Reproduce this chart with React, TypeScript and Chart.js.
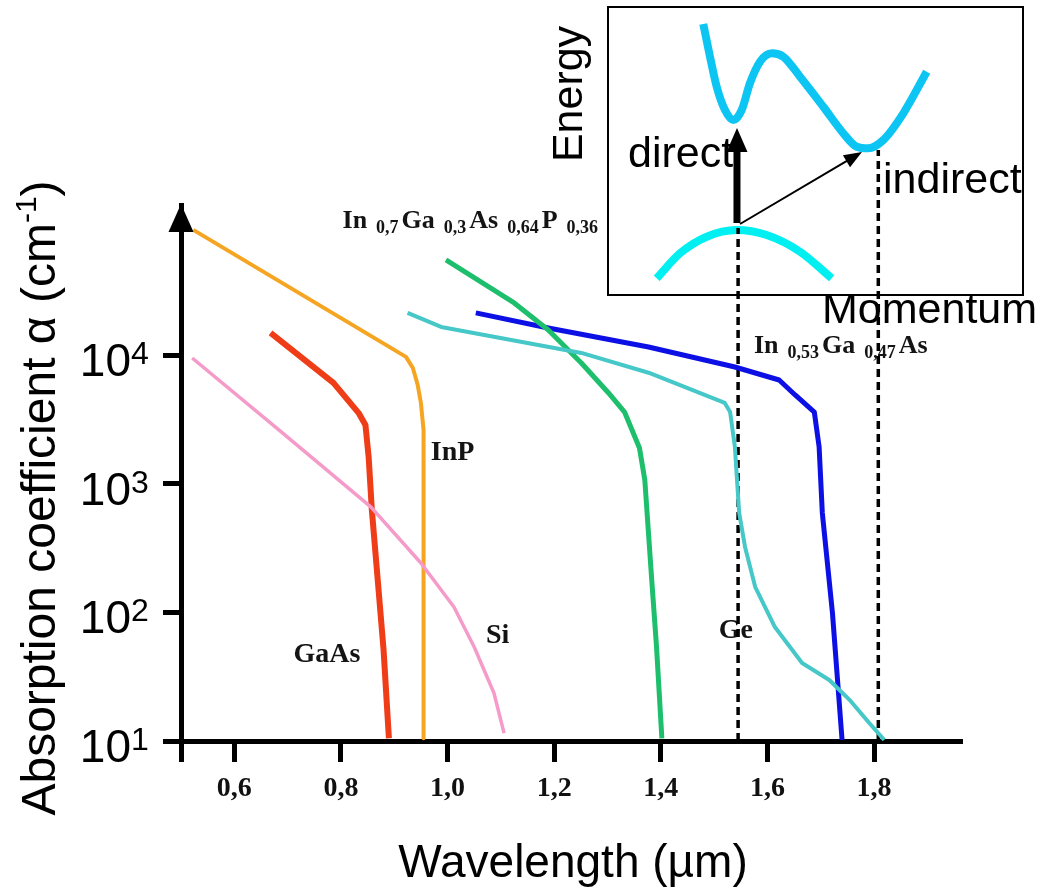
import React, { useEffect, useRef } from 'react';
import { Chart, registerables } from 'chart.js';

Chart.register(...registerables);

type P = [number, number];

// ---------- main chart data: wavelength (µm) vs absorption coefficient (cm^-1)
const seriesGaAs: P[] = [[0.668, 14900], [0.786, 6080], [0.833, 3560], [0.846, 2860], [0.852, 1615], [0.858, 625], [0.869, 179], [0.880, 51], [0.890, 10.5]];
const seriesInP: P[] = [[0.523, 94200], [0.922, 9690], [0.935, 7940], [0.944, 5860], [0.950, 4250], [0.955, 2620], [0.955, 10.5]];
const seriesSi: P[] = [[0.521, 9500], [0.688, 2530], [0.856, 661], [0.950, 242], [1.012, 110], [1.050, 53.8], [1.087, 23.6], [1.106, 11.5]];
const seriesInGaAsP: P[] = [[0.997, 54950], [1.125, 25470], [1.189, 15700], [1.251, 8690], [1.302, 5080], [1.332, 3610], [1.360, 1897], [1.370, 1072], [1.383, 179], [1.392, 53.8], [1.402, 10.5]];
const seriesGe: P[] = [[0.925, 21300], [0.988, 16560], [1.251, 10400], [1.377, 7300], [1.520, 4250], [1.530, 3610], [1.539, 1930], [1.547, 593], [1.558, 323], [1.577, 158], [1.614, 76.9], [1.665, 40.4], [1.716, 29.8], [1.754, 20.9], [1.791, 13.8], [1.819, 10.2]];
const seriesInGaAs: P[] = [[1.053, 21300], [1.189, 16260], [1.377, 11580], [1.539, 8090], [1.622, 6410], [1.652, 4900], [1.688, 3610], [1.697, 1930], [1.703, 593], [1.722, 98.9], [1.740, 10.2]];

const directGapLine: P[] = [[1.545, 10], [1.545, 97500]];
const indirectGapLine: P[] = [[1.808, 10], [1.808, 394000]];

const xTickValues = [0.6, 0.8, 1.0, 1.2, 1.4, 1.6, 1.8];
const xTickLabels = ['0,6', '0,8', '1,0', '1,2', '1,4', '1,6', '1,8'];
const yTickValues = [10, 100, 1000, 10000];
const yTickExponents = ['1', '2', '3', '4'];

const curveLabels = [
  { text: 'GaAs', x: 0.7108, y: 41.1 },
  { text: 'InP', x: 0.9687, y: 1530 },
  { text: 'Si', x: 1.0722, y: 57.8 },
  { text: 'Ge', x: 1.5088, y: 63.2 },
];
const compoundLabels: { parts: [string, boolean][]; x: number; y: number }[] = [
  { parts: [['In', false], ['0,7', true], ['Ga', false], ['0,3', true], ['As', false], ['0,64', true], ['P', false], ['0,36', true]], x: 0.803, y: 97500 },
  { parts: [['In', false], ['0,53', true], ['Ga', false], ['0,47', true], ['As', false]], x: 1.5747, y: 10400 },
];

// ---------- inset (band diagram) data, arbitrary momentum / energy units 0..100
const conductionBand: P[] = [[22.96, 94.1], [24.58, 82.74], [26.19, 72.33], [28.19, 64.24], [30.19, 60.76], [32.22, 64.24], [34.22, 73.61], [36.63, 81.01], [39.45, 83.92], [42.24, 82.74], [46.27, 75.8], [51.88, 65.38], [56.7, 56.15], [59.93, 51.49], [62.72, 50.94], [66.34, 53.82], [71.16, 63.09], [76.8, 77.53]];
const valenceBand: P[] = [[11.73, 5.8], [17.35, 14.48], [23.78, 20.24], [31.01, 22.57], [38.24, 20.83], [46.27, 15.03], [53.9, 5.8]];
const directArrow: P[] = [[31.08, 25.0], [31.08, 57.99]];
const indirectArrow: P[] = [[31.81, 24.65], [61.2, 49.65]];

const SANS = '"Liberation Sans", Arial, sans-serif';
const SERIF = '"Liberation Serif", "Times New Roman", serif';

const toXY = (a: P[]) => a.map(([x, y]) => ({ x, y }));

function drawArrow(ctx: CanvasRenderingContext2D, x0: number, y0: number, x1: number, y1: number, w: number, headLen: number, headHalf: number) {
  const ang = Math.atan2(y1 - y0, x1 - x0);
  const c = Math.cos(ang), s = Math.sin(ang);
  const bx = x1 - headLen * c, by = y1 - headLen * s;
  ctx.save();
  ctx.strokeStyle = '#000';
  ctx.fillStyle = '#000';
  ctx.lineWidth = w;
  ctx.lineCap = 'butt';
  ctx.beginPath();
  ctx.moveTo(x0, y0);
  ctx.lineTo(bx + c, by + s);
  ctx.stroke();
  ctx.beginPath();
  ctx.moveTo(x1, y1);
  ctx.lineTo(bx + headHalf * s, by - headHalf * c);
  ctx.lineTo(bx - headHalf * s, by + headHalf * c);
  ctx.closePath();
  ctx.fill();
  ctx.restore();
}

const mainDecor = {
  id: 'mainDecor',
  beforeDatasetsDraw(chart: any) {
    const ctx: CanvasRenderingContext2D = chart.ctx;
    const xs = chart.scales.x, ys = chart.scales.y;
    ctx.save();
    ctx.fillStyle = '#141414';
    ctx.textAlign = 'left';
    ctx.textBaseline = 'alphabetic';
    ctx.font = `bold 28px ${SERIF}`;
    curveLabels.forEach((l) => {
      ctx.fillText(l.text, xs.getPixelForValue(l.x), ys.getPixelForValue(l.y));
    });
    compoundLabels.forEach((l) => {
      let cx = xs.getPixelForValue(l.x);
      const by = ys.getPixelForValue(l.y);
      l.parts.forEach(([t, sub]) => {
        if (sub) {
          cx += 9;
          ctx.font = `bold 18px ${SERIF}`;
          ctx.fillText(t, cx, by + 5);
          cx += ctx.measureText(t).width + 3;
        } else {
          ctx.font = `bold 26px ${SERIF}`;
          ctx.fillText(t, cx, by);
          cx += ctx.measureText(t).width;
        }
      });
    });
    ctx.restore();
  },
  afterDraw(chart: any) {
    const ctx: CanvasRenderingContext2D = chart.ctx;
    const ys = chart.scales.y;
    const area = chart.chartArea;
    ctx.save();
    // arrow head on y axis
    ctx.fillStyle = '#000';
    ctx.beginPath();
    ctx.moveTo(area.left, area.top - 1);
    ctx.lineTo(area.left - 12.5, area.top + 27);
    ctx.lineTo(area.left + 12.5, area.top + 27);
    ctx.closePath();
    ctx.fill();
    // y tick labels 10^n
    ctx.fillStyle = '#000';
    ctx.textBaseline = 'alphabetic';
    yTickValues.forEach((v, i) => {
      const py = ys.getPixelForValue(v);
      ctx.font = `46px ${SANS}`;
      ctx.textAlign = 'right';
      ctx.fillText('10', 131, py + 21);
      ctx.font = `32px ${SANS}`;
      ctx.textAlign = 'left';
      ctx.fillText(yTickExponents[i], 131, py + 9);
    });
    // x title
    ctx.font = `46px ${SANS}`;
    ctx.textAlign = 'center';
    ctx.fillText('Wavelength (µm)', 573, 877);
    // y title (rotated, with superscript)
    const main1 = 'Absorption coefficient α (cm';
    const sup = '-1';
    const main2 = ')';
    ctx.translate(55, 498);
    ctx.rotate(-Math.PI / 2);
    ctx.textAlign = 'left';
    ctx.font = `48px ${SANS}`;
    const w1 = ctx.measureText(main1).width;
    const w3 = ctx.measureText(main2).width;
    ctx.font = `30px ${SANS}`;
    const w2 = ctx.measureText(sup).width;
    let cx = -(w1 + w2 + w3) / 2;
    ctx.font = `48px ${SANS}`;
    ctx.fillText(main1, cx, 0);
    cx += w1;
    ctx.font = `30px ${SANS}`;
    ctx.fillText(sup, cx, -19);
    cx += w2;
    ctx.font = `48px ${SANS}`;
    ctx.fillText(main2, cx, 0);
    ctx.restore();
  },
};

const insetDecor = {
  id: 'insetDecor',
  beforeDraw(chart: any) {
    const ctx: CanvasRenderingContext2D = chart.ctx;
    const a = chart.chartArea;
    ctx.save();
    ctx.fillStyle = '#fff';
    ctx.fillRect(a.left, a.top, a.right - a.left, a.bottom - a.top);
    ctx.strokeStyle = '#000';
    ctx.lineWidth = 2;
    ctx.strokeRect(a.left, a.top, a.right - a.left, a.bottom - a.top);
    ctx.restore();
  },
  beforeDatasetsDraw(chart: any) {
    const ctx: CanvasRenderingContext2D = chart.ctx;
    ctx.save();
    ctx.fillStyle = '#000';
    ctx.font = `43px ${SANS}`;
    ctx.textBaseline = 'alphabetic';
    ctx.textAlign = 'left';
    ctx.fillText('direct', 88, 167);
    ctx.fillText('indirect', 343, 193);
    ctx.fillText('Momentum', 282, 323);
    ctx.translate(42, 94);
    ctx.rotate(-Math.PI / 2);
    ctx.textAlign = 'center';
    ctx.fillText('Energy', 0, 0);
    ctx.restore();
  },
  afterDatasetsDraw(chart: any) {
    const ctx: CanvasRenderingContext2D = chart.ctx;
    const d = chart.getDatasetMeta(2).data;
    const n = chart.getDatasetMeta(3).data;
    drawArrow(ctx, d[0].x, d[0].y, d[1].x, d[1].y, 7, 24, 10.5);
    drawArrow(ctx, n[0].x, n[0].y, n[1].x, n[1].y, 2, 18, 7);
  },
};

export default function App() {
  const mainRef = useRef<HTMLCanvasElement>(null);
  const insetRef = useRef<HTMLCanvasElement>(null);

  useEffect(() => {
    const curve = (data: P[], color: string, width: number) => ({
      data: toXY(data),
      borderColor: color,
      backgroundColor: color,
      borderWidth: width,
      pointRadius: 0,
      tension: 0,
      fill: false,
      borderJoinStyle: 'round' as const,
    });
    const dashed = (data: P[]) => ({
      data: toXY(data),
      borderColor: '#000',
      borderWidth: 3.5,
      borderDash: [8, 5],
      pointRadius: 0,
      fill: false,
      clip: false as const,
    });

    const main = new Chart(mainRef.current!, {
      type: 'line',
      data: {
        datasets: [
          curve(seriesSi, '#f59bc9', 3.5),
          curve(seriesInP, '#f5a521', 4),
          curve(seriesGaAs, '#ef3d18', 6),
          curve(seriesGe, '#46c7c8', 4),
          curve(seriesInGaAsP, '#1dbf6c', 5),
          curve(seriesInGaAs, '#0c10e4', 5),
          dashed(directGapLine),
          dashed(indirectGapLine),
        ] as any,
      },
      options: {
        responsive: false,
        animation: false,
        events: [],
        layout: { padding: { left: 0, top: 205, right: 76, bottom: 0 } },
        plugins: { legend: { display: false }, tooltip: { enabled: false } },
        scales: {
          x: {
            type: 'linear',
            min: 0.5,
            max: 1.965,
            afterBuildTicks: (s: any) => {
              s.ticks = [0.5, ...xTickValues].map((v) => ({ value: v }));
            },
            afterFit: (s: any) => {
              s.height = 147;
            },
            ticks: {
              autoSkip: false,
              maxRotation: 0,
              padding: 10,
              color: '#111',
              font: { family: SERIF, size: 28, weight: 'bold' },
              callback: (_v: any, i: number) => (i === 0 ? '' : xTickLabels[i - 1]),
            },
            grid: { drawOnChartArea: false, drawTicks: true, tickLength: 21, tickWidth: 5, tickColor: '#000' },
            border: { display: true, width: 5, color: '#000' },
          },
          y: {
            type: 'logarithmic',
            min: 10,
            max: 147000,
            afterBuildTicks: (s: any) => {
              s.ticks = yTickValues.map((v) => ({ value: v }));
            },
            afterFit: (s: any) => {
              s.width = 181;
            },
            ticks: { display: false },
            grid: { drawOnChartArea: false, drawTicks: true, tickLength: 18, tickWidth: 5, tickColor: '#000' },
            border: { display: true, width: 5, color: '#000' },
          },
        },
      } as any,
      plugins: [mainDecor],
    });

    const inset = new Chart(insetRef.current!, {
      type: 'line',
      data: {
        datasets: [
          { data: toXY(conductionBand), borderColor: '#0cc5f3', borderWidth: 8, pointRadius: 0, cubicInterpolationMode: 'monotone', fill: false, borderCapStyle: 'butt', clip: false },
          { data: toXY(valenceBand), borderColor: '#00eff0', borderWidth: 8, pointRadius: 0, cubicInterpolationMode: 'monotone', fill: false, borderCapStyle: 'butt', clip: false },
          { data: toXY(directArrow), showLine: false, pointRadius: 0 },
          { data: toXY(indirectArrow), showLine: false, pointRadius: 0 },
        ] as any,
      },
      options: {
        responsive: false,
        animation: false,
        events: [],
        layout: { padding: { left: 68, top: 7, right: 15, bottom: 45 } },
        plugins: { legend: { display: false }, tooltip: { enabled: false } },
        scales: {
          x: { type: 'linear', display: false, min: 0, max: 100 },
          y: { type: 'linear', display: false, min: 0, max: 100 },
        },
      } as any,
      plugins: [insetDecor],
    });

    return () => {
      main.destroy();
      inset.destroy();
    };
  }, []);

  return (
    <div style={{ position: 'absolute', left: 0, top: 0, width: 1038, height: 888, background: '#fff', overflow: 'hidden' }}>
      <canvas ref={insetRef} width={498} height={340} style={{ position: 'absolute', left: 540, top: 0, zIndex: 0 }} />
      <canvas ref={mainRef} width={1038} height={888} style={{ position: 'absolute', left: 0, top: 0, zIndex: 1 }} />
    </div>
  );
}
